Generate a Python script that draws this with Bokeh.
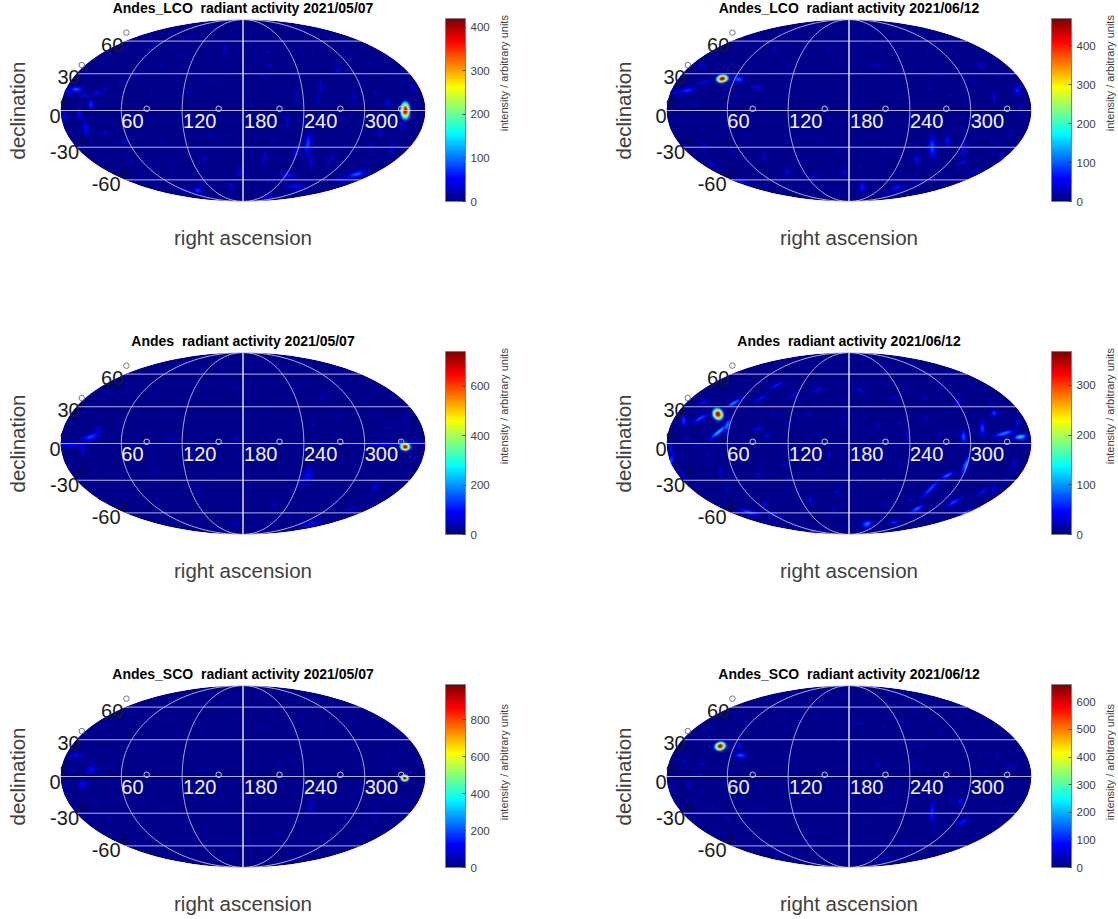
import numpy as np
from bokeh.core.properties import value
from bokeh.embed import file_html
from bokeh.layouts import column, row
from bokeh.models import ColorBar, ColumnDataSource, FixedTicker, LinearColorMapper, Range1d
from bokeh.plotting import figure
from bokeh.resources import INLINE
from bokeh.transform import transform

# ---- titles, colour-bar scales -------------------------------------------
titles = ["Andes_LCO \u00a0radiant activity 2021/05/07", "Andes_LCO \u00a0radiant activity 2021/06/12",
          "Andes \u00a0radiant activity 2021/05/07", "Andes \u00a0radiant activity 2021/06/12",
          "Andes_SCO \u00a0radiant activity 2021/05/07", "Andes_SCO \u00a0radiant activity 2021/06/12"]
scale_max = [420, 470, 740, 368, 990, 663]
scale_ticks = [[0, 100, 200, 300, 400], [0, 100, 200, 300, 400],
               [0, 200, 400, 600], [0, 100, 200, 300],
               [0, 200, 400, 600, 800], [0, 100, 200, 300, 400, 500, 600]]
ra_labels = ["60", "120", "180", "240", "300"]
dec_labels = ["60", "30", "0", "-30", "-60"]
ra_grid = [60, 120, 180, 240, 300]
dec_grid = [60, 30, 0, -30, -60]

# ---- activity features -----------------------------------------------------
# x (projected RA), y (projected dec), width, height, tilt in degrees, intensity
lco_0507 = [
    (340,0,11,20,0,420),(15.5,21,12,5,0,85),(7,19,8,4,0,55),(30,6,5,9,0,70),(36,17.5,5,5,0,50),
    (19,-3,5,10,0,50),(25,-18,5,14,10,50),(24,15,10,3,0,40),(4,-5,4,10,0,40),(244,-33,6,20,-8,75),
    (232.6,-41,5,12,-10,55),(224,-64,12,5,0,60),(231,-75,18,4,0,55),(292,-63,18,5,15,85),
    (277,-68,12,4,0,50),(247,-50,4,12,-15,40),(178,-61,6,8,0,50),(135.5,-79,8,6,0,70),
    (124,-79,10,4,-15,45),(204.6,-86,10,3,0,50),(168,-74,5,5,0,45),(348,23,4,8,0,35),
    (323,7,4,8,0,45),(315,-21,3,12,0,40),(326,-38,4,12,-20,40),(306.6,-36,3,10,-15,35),
    (254,11.6,3,10,0,35),(273.7,41,5,10,-20,35),(257,23,3,12,0,35),(290,13,4,10,0,30),
    (204.6,45,8,3,-20,30),(232.6,15,3,12,0,38),(224,-11.6,3,12,0,35),(201,-46,4,10,-20,40),
    (162,61,5,8,0,30),(92.8,64.6,5,4,0,25),(60,60,10,3,20,28),(43.4,20,4,6,0,35),
    (63,-31,8,3,-15,35),(45,-21.5,10,3,-15,30),(125.7,18,5,3,0,25),(142,-48,4,8,0,30),
    (336,-15,3,8,0,50),(267,-48,3,10,-25,40),
]
lco_0612 = [
    (55,31.5,14,9,10,470),(71,31,10,6,0,95),(89.5,23,14,3,-15,55),(20.4,20,16,5,15,75),
    (35,45,8,3,20,50),(9,18,8,4,0,45),(37,28,12,3,15,50),(346,20,6,8,0,70),(323,13,4,8,0,50),
    (310,45,8,4,-15,40),(349,2,4,10,0,45),(262,-36,7,20,0,85),(277,-30,5,10,0,60),
    (293,-38,5,14,-20,50),(292,-51,12,3,30,60),(247,-48,5,8,0,60),(227.6,-76,14,4,10,65),
    (193,-76,5,10,0,70),(175,-60,4,8,0,45),(73,-70,16,3,-15,65),(46.7,-53,12,3,-30,40),
    (96,-46,4,8,0,40),(37,-36,4,10,0,35),(119,-61,5,8,0,40),(263.8,36,10,3,-15,30),
    (247,-71,10,3,15,35),(208,45,10,3,-15,30),(106,61,6,3,15,30),(306,-8,4,8,0,30),
    (303,-61,12,3,20,35),(221,-81,10,3,10,40),(145,-65,5,6,0,30),(329.6,-48,4,10,-15,35),
    (27,6.6,5,4,0,30),(339.5,-23,3,8,0,30),(257,58,8,3,-15,25),
]
all_0507 = [
    (340,-3.3,12,9,0,740),(30,6.6,18,6,20,130),(22,-5,4,14,0,75),(10,-1,20,4,0,90),(4,8,5,8,0,50),
    (318,0,35,3,0,100),(351,1.6,10,3,0,100),(336,2,6,4,0,150),(244,-31.5,8,16,-15,95),
    (236,-38,5,10,-10,60),(310,-43,4,14,-20,70),(287,-64.6,10,3,20,60),(247,-79.5,22,5,15,85),
    (211,-61,4,6,0,55),(172,-79,6,4,0,50),(136,-48,4,8,0,45),(93,-28,4,6,0,35),(37,15,6,6,0,60),
    (173,5,4,6,0,50),(111,5,12,3,0,38),(249,18,5,4,0,40),(339.5,23,3,10,0,45),(323,15,8,3,0,40),
    (257,45,5,8,-20,40),(172,55,6,3,0,40),(61.6,50,6,3,15,30),(33.5,36.4,4,5,0,35),(274,25,4,6,0,30),
    (208,15,5,3,0,30),(306.6,-61,8,3,20,45),(326,-28,4,6,0,30),(191,-68,4,5,0,35),
]
all_0612 = [
    (50.7,29,12,14,30,368),(51.6,11.6,20,4,40,110),(60,18,5,14,-20,85),(66.4,40,16,4,30,90),
    (33.5,25,16,4,30,70),(17,23,5,10,0,65),(4,-18,5,16,-20,70),(4,-5,3,10,0,50),(37,41,10,3,20,50),
    (89.5,15,12,3,20,40),(109,58,14,3,25,55),(93,45,14,3,30,50),(148.7,53,10,3,25,45),
    (125.7,48,10,3,30,45),(349,6.6,12,5,10,120),(333,10,20,4,15,90),(311.5,15,5,14,0,65),
    (323,30,6,6,0,65),(293,6.6,5,12,0,75),(287,41,4,10,-25,55),(295,-21.5,5,18,-20,85),
    (277,-31.5,14,4,25,80),(260.5,-44.7,24,4,45,70),(247,-64.6,14,4,30,80),(283.5,-58,16,4,30,65),
    (296.7,-68,20,4,25,70),(198,-79.5,10,6,20,85),(224.4,-78,8,4,0,60),(81.6,-68,18,4,-15,75),
    (106,-71,14,3,-15,60),(144,-87,10,2,0,70),(311.5,-48,12,3,30,50),(142,-56,4,6,0,45),
    (96,-60,5,4,0,45),(53,-28,3,10,0,40),(99,8,5,4,0,40),(191,53,10,3,-15,40),(224.4,45,8,3,-15,35),
    (208,18,4,5,0,30),(342.8,-20,3,10,0,45),(323,-45,3,10,-15,45),(346,20,4,8,0,45),
    (191,-11.6,4,5,0,30),(116,-21.5,5,3,0,30),(237.5,8,4,6,0,35),(168,-48,4,6,0,30),
    (17,-31,5,8,0,35),(20,5,5,3,0,40),
]
sco_0507 = [
    (339.5,-1.6,9,8,0,990),(30,6.6,10,6,20,130),(15.5,21,12,5,0,110),(22,-7.6,8,7,0,115),
    (10.5,6.6,10,3,0,50),(4,-8,3,8,0,55),(30,15,6,6,0,50),(246.7,-30,6,14,0,70),(310,-38,3,12,-15,55),
    (298,-55,3,10,-30,45),(163.5,-76,5,4,0,45),(216,11.6,3,8,0,45),(185,50,3,5,0,40),(198,50,8,3,0,40),
    (257,51,8,3,30,40),(274,15,4,4,0,45),(334.5,26.5,3,8,0,45),(323,21.5,3,8,0,40),(306.6,41,3,8,0,40),
    (139,28,4,3,0,30),(96,-48,8,2,0,35),(201,-71,10,3,0,40),(257,-61,3,6,0,35),(46.7,25,4,4,0,40),
]
sco_0612 = [
    (53,30,13,10,15,663),(73,21,11,5,0,130),(71.4,30,5,6,0,85),(35,13,5,4,0,50),(17,15,5,4,0,55),
    (33.5,1,5,4,0,70),(22,-8,4,6,0,50),(5.6,-11.6,3,8,0,45),(262,-35,5,18,-5,100),(290,-25,5,6,0,95),
    (292,-45,14,4,35,95),(280,-23,3,6,0,55),(213,-81,12,3,10,55),(208,13,5,4,0,65),(339.5,10,10,3,0,55),
    (326,20,4,6,0,40),(310,21.5,3,6,0,35),(111,-74.5,8,4,0,50),(264,-51,4,8,0,40),(188,53,14,2,0,40),
    (244,11.6,3,8,0,40),(234,53,6,3,-15,35),(142,-65,3,5,0,30),(171.7,-71,8,2,0,30),(33.5,-46,3,6,0,30),
]
features = [lco_0507, lco_0612, all_0507, all_0612, sco_0507, sco_0612]

# faint streaks: x, y of the weak texture, with one intensity per map
lco_0507_faint = [(205,58),(198,35),(191,51),(224,51),(250,59),(231,38),(257,28),(280,51),(300,31),(310,18),
                  (336,31),(280,-8),(257,-11),(208,-28),(221,-48),(188,-38),(280,-35),(205,-71),(90,20),
                  (100,45),(75,35),(60,30),(125,-10),(150,-25),(100,-30),(70,-50),(110,-60),(150,30),(140,-70),
                  (165,-25),(120,55),(330,-25),(300,-50),(320,10)]
lco_0612_faint = [(120,45),(135,58),(160,60),(200,65),(230,55),(260,20),(280,15),(300,30),(330,35),(240,-15),
                  (300,-15),(320,-30),(215,-40),(150,-30),(120,-30),(80,-25),(65,-40),(60,-15),(100,10),
                  (90,-10),(130,-50),(170,-40),(190,-55),(230,-60),(270,-60)]
all_0507_faint = [(130,-10),(150,25),(100,30),(70,35),(60,20),(95,-55),(125,-60),(150,-30),(215,-25),(260,-15),
                  (290,-20),(315,30),(300,40),(285,55),(230,50),(200,35),(150,45),(110,50),(225,-70),(265,-50),
                  (330,-40),(345,-10),(60,-40),(40,-30),(40,-55)]
all_0612_faint = [(120,20),(150,10),(175,25),(230,20),(255,25),(270,10),(300,-5),(320,-15),(335,-35),(255,-15),
                  (230,-20),(215,-35),(190,-40),(150,-25),(120,-35),(90,-30),(70,-15),(40,-10),(30,0),(60,-45),
                  (130,-45),(165,-65),(215,-60),(255,45),(270,55),(320,40),(175,35),(140,30),(105,30),(160,-10),
                  (200,0),(240,-55)]
sco_0507_faint = [(150,-5),(120,40),(80,30),(65,55),(230,45),(290,30),(305,20),(330,10),(325,-20),(280,-45),
                  (215,-55),(130,-55),(100,-30),(180,30),(160,-40),(240,25),(250,-10),(70,-20),(50,-40),(340,-25)]
sco_0612_faint = [(100,50),(130,55),(170,35),(215,50),(250,30),(270,45),(300,40),(320,-15),(335,-30),(240,-20),
                  (215,-30),(130,-35),(150,-55),(90,-30),(60,-40),(70,-10),(45,-30),(180,-10),(200,-45),(235,-65),
                  (305,-55),(315,5),(345,0),(275,5)]
faint = [lco_0507_faint, lco_0612_faint, all_0507_faint, all_0612_faint, sco_0507_faint, sco_0612_faint]
faint_level = [28, 30, 40, 32, 50, 45]

# ---- page geometry -----------------------------------------------------------
FONT = "Liberation Sans"
COL_W = [606, 512]
ROW_H = [333, 333, 253]
MAP_W = 495   # width of the map figure; the colour-bar label has a narrow figure of its own
# the frame also holds the map's own labels, so it is wider than the projection
F_LEFT, F_W, F_H = 38, 409, 220
UX = 360 / 365   # data units per pixel across the projection
UY = 180 / 182


def jet(n=256):
    t = np.linspace(0, 1, n)
    r = np.interp(t, [0, .375, .625, .875, 1], [0, 0, 1, 1, .5])
    g = np.interp(t, [0, .125, .375, .625, .875, 1], [0, 0, 1, 1, 0, 0])
    b = np.interp(t, [0, .125, .375, .625, 1], [.5, 1, 1, 0, 0])
    return ["#%02x%02x%02x" % (int(a*255), int(c*255), int(d*255)) for a, c, d in zip(r, g, b)]


PALETTE = jet()


def moll_theta(dec):
    """Auxiliary angle of the Mollweide projection."""
    phi = np.radians(dec)
    th = phi
    for _ in range(60):
        th = th - (2*th + np.sin(2*th) - np.pi*np.sin(phi)) / (2 + 2*np.cos(2*th) + 1e-9)
    return th


def rings(spots, vmax):
    """Nested contours of each feature, painted low to high."""
    bg = vmax * 0.015
    rows = []
    for (x, y, w, h, a, v) in spots:
        peak = v > vmax * 0.5
        levels = np.linspace(.15, .97, 20 if peak else 7)
        grow = 1.05 if peak else 1.45
        top = v if peak else v * 1.15
        for f in levels:
            s = grow * np.sqrt(np.log(1/f) / np.log(1/.15))
            rows.append((bg + (top - bg)*f, x, y, w*s, h*s, a))
    rows.sort()
    return ColumnDataSource(dict(v=[r[0] for r in rows], x=[r[1] for r in rows], y=[r[2] for r in rows],
                                 w=[r[3] for r in rows], h=[r[4] for r in rows], a=[r[5] for r in rows]))


def panel(i):
    r = i // 2
    vmax = scale_max[i]
    mapper = LinearColorMapper(palette=PALETTE, low=0, high=vmax)
    x0 = (F_LEFT - 60) * UX
    x1 = x0 + F_W * UX
    yh = F_H / 2 * UY
    p = figure(frame_width=F_W, frame_height=F_H, x_range=Range1d(x0, x1), y_range=Range1d(-yh, yh),
               output_backend="svg", toolbar_location=None, tools="",
               min_border_left=F_LEFT, min_border_top=0, min_border_bottom=ROW_H[r]-F_H,
               min_border_right=MAP_W-F_LEFT-F_W, background_fill_color="white",
               border_fill_color="white", x_axis_label="right ascension", y_axis_label="declination")
    p.outline_line_color = None
    p.grid.visible = False
    for ax in (p.xaxis[0], p.yaxis[0]):
        ax.ticker = FixedTicker(ticks=[])
        ax.axis_line_color = None
        ax.major_tick_line_color = None
        ax.minor_tick_line_color = None
        ax.major_label_text_font_size = "0px"
        ax.axis_label_text_font = FONT
        ax.axis_label_text_font_size = "20.5px"
        ax.axis_label_text_font_style = "normal"
        ax.axis_label_text_color = "#404040"
    p.xaxis[0].axis_label_standoff = 5
    p.yaxis[0].axis_label_standoff = 10

    # map background and activity
    bg = ColumnDataSource(dict(x=[180], y=[0], w=[360], h=[180], v=[vmax*0.015]))
    p.ellipse("x", "y", width="w", height="h", source=bg, fill_color=transform("v", mapper), line_color=None)
    spots = list(features[i]) + [(x, y, 4.5, 2.6, -30, faint_level[i]) for x, y in faint[i]]
    p.ellipse("x", "y", width="w", height="h", angle="a", angle_units="deg", source=rings(spots, vmax),
              fill_color=transform("v", mapper), line_color=None)

    # white mask outside the projection
    t = np.linspace(0, 2*np.pi, 241)
    p.multi_polygons(xs=[[[[x0-5, x1+5, x1+5, x0-5], list(180 + 180*np.cos(t))]]],
                     ys=[[[[-yh-5, -yh-5, yh+5, yh+5], list(90*np.sin(t))]]],
                     fill_color="white", line_color=None)

    # graticule
    for d in dec_grid:
        s = moll_theta(d)
        c = np.cos(s)
        p.line([180 - 180*c, 180 + 180*c], [90*np.sin(s)]*2, line_color="white", line_alpha=.7, line_width=1)
    lat = np.linspace(-89.99, 89.99, 121)
    th = moll_theta(lat)
    for ra in ra_grid:
        mid = ra == 180
        p.line(180 + (ra - 180)*np.cos(th), 90*np.sin(th), line_color="white" if mid else "#d4d4e6",
               line_alpha=1 if mid else .8, line_width=1.3 if mid else 1)

    # anchor circles of the map labels
    p.scatter([85, 156, 216, 276, 336], [1.7]*5, size=5.5, fill_color=None, line_color="#d0d0d0", line_width=1)
    p.scatter([65, 21], [77, 45], size=5.5, fill_color=None, line_color="#777777", line_width=1)
    p.scatter([3.3, 21, 63], [8, -29, -62], size=5.5, fill_color=None, line_color="#101010", line_width=1)

    # map labels
    p.text([71, 137.3, 197.5, 256.6, 316.5], [-10]*5, text=ra_labels, text_color="#f4f4f4",
           text_font=value(FONT), text_font_size="20px", text_align="center", text_baseline="middle")
    p.text([51, 8, -5.4, 4, 45], [65, 33, -5, -41.5, -73], text=dec_labels, text_color="#1a1a1a",
           text_font=value(FONT), text_font_size="20px", text_align="center", text_baseline="middle")
    p.text([180], [101], text=[titles[i]], text_color="black", text_font=value(FONT), text_font_size="14px",
           text_font_style="bold", text_align="center", text_baseline="middle")

    # colour bar
    cb = ColorBar(color_mapper=mapper, ticker=FixedTicker(ticks=scale_ticks[i]), location=(407, 19),
                  width=20, height=183, padding=0, margin=0, bar_line_color="#808080",
                  major_tick_line_color="#404040", major_tick_in=3, major_tick_out=0,
                  major_label_text_font=FONT, major_label_text_font_size="11.5px",
                  major_label_text_color="#404040", label_standoff=5, background_fill_color=None,
                  border_line_color=None, orientation="vertical")
    p.add_layout(cb)
    return p


def bar_label(col, r):
    """Narrow figure that holds the rotated colour-bar label."""
    w = COL_W[col] - MAP_W
    p = figure(width=w, height=ROW_H[r], x_range=Range1d(0, w), y_range=Range1d(-ROW_H[r], 0),
               output_backend="svg", toolbar_location=None, tools="", x_axis_type=None, y_axis_type=None,
               min_border=0, outline_line_color=None)
    p.grid.visible = False
    p.text([8], [-F_H/2], text=["intensity / arbitrary units"], angle=90, angle_units="deg", text_color="#404040",
           text_font=value(FONT), text_font_size="11px", text_align="center", text_baseline="middle")
    return p


rows = [row(panel(2*r), bar_label(0, r), panel(2*r+1), bar_label(1, r), spacing=0) for r in range(3)]
page = column(*rows, spacing=0)
open("out.html", "w").write(file_html(page, INLINE))
